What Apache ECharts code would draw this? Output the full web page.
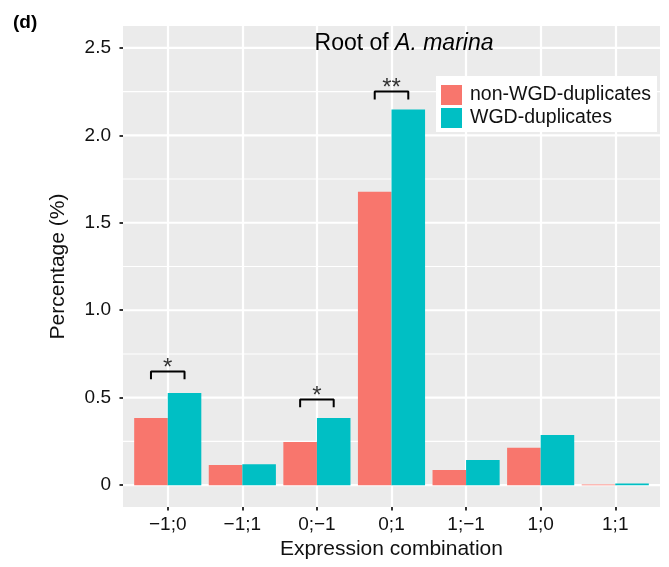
<!DOCTYPE html>
<html>
<head>
<meta charset="utf-8">
<script src="https://cdn.jsdelivr.net/npm/echarts@6/dist/echarts.min.js"></script>
<style>
  html, body { margin: 0; padding: 0; background: #fff; }
  #chart { width: 669px; height: 567px; }
</style>
</head>
<body>
<div id="chart"></div>
<script>
// 数据
const categories = ['\u22121;0', '\u22121;1', '0;\u22121', '0;1', '1;\u22121', '1;0', '1;1']
const nonWgd = [0.384, 0.115, 0.246, 1.678, 0.086, 0.214, 0.004]     // non-WGD-duplicates
const wgd = [0.527, 0.120, 0.384, 2.148, 0.143, 0.286, 0.010]        // WGD-duplicates
const yTicks = [0, 0.5, 1.0, 1.5, 2.0, 2.5]
const yMinor = [0.25, 0.75, 1.25, 1.75, 2.25]
// 显著性标注
const sigIndex = [0, 2, 3]
const sigTop = [0.65, 0.49, 2.25]
const sigLabel = ['*', '*', '**']

const FONT = "'Liberation Sans', Arial, sans-serif"
const RED = '#F8766D'
const TEAL = '#00BFC4'
const HALF = 0.225      // 半个柱宽(类别单位)
const LEG = 0.045       // 括号脚长
const X_MIN = -0.6
const X_MAX = 6.6

const chart = echarts.init(document.getElementById('chart'))

const xIdx = categories.map((c, i) => i)

// 横向网格线: 主/次
const gridSeries = [
    ...yMinor.map(v => ({ v, w: 1.1 })),
    ...yTicks.map(v => ({ v, w: 2.2 }))
].map(g => ({
    type: 'line',
    z: 3,
    silent: true,
    symbol: 'none',
    lineStyle: { color: '#fff', width: g.w },
    data: [[X_MIN, g.v], [X_MAX, g.v]]
}))

const bracketSeries = sigIndex.map((ci, k) => ({
    type: 'line',
    z: 6,
    silent: true,
    symbol: 'none',
    lineStyle: { color: '#000', width: 2 },
    data: [
        [ci - HALF, sigTop[k] - LEG],
        [ci - HALF, sigTop[k]],
        [ci + HALF, sigTop[k]],
        [ci + HALF, sigTop[k] - LEG]
    ]
}))

const option = {
    animation: false,
    textStyle: { fontFamily: FONT },
    grid: {
        left: 123, right: 9, top: 26, bottom: 60,
        show: true, backgroundColor: '#EBEBEB', borderWidth: 0
    },
    xAxis: {
        type: 'value',
        min: X_MIN,
        max: X_MAX,
        name: 'Expression combination',
        nameLocation: 'middle',
        nameGap: 31,
        nameTextStyle: { fontSize: 21, color: '#111', fontFamily: FONT },
        axisLine: { show: false, onZero: false },
        splitLine: { show: true, lineStyle: { color: '#fff', width: 2.2 } },
        axisTick: { show: true, customValues: xIdx, length: 3.5, lineStyle: { color: '#333', width: 2 } },
        axisLabel: {
            customValues: xIdx,
            formatter: v => categories[Math.round(v)] || '',
            fontSize: 19, color: '#111', margin: 8, fontFamily: FONT
        }
    },
    yAxis: {
        type: 'value',
        min: -0.125,
        max: 2.625,
        name: 'Percentage (%)',
        nameLocation: 'middle',
        nameRotate: 90,
        nameGap: 54,
        nameTextStyle: { fontSize: 21, color: '#111', fontFamily: FONT },
        axisLine: { show: false, onZero: false },
        splitLine: { show: false },
        axisTick: { show: true, customValues: yTicks, length: 3.5, lineStyle: { color: '#333', width: 2 } },
        axisLabel: {
            customValues: yTicks,
            formatter: v => v === 0 ? '0' : v.toFixed(1),
            fontSize: 19, color: '#111', margin: 12, fontFamily: FONT
        }
    },
    legend: {
        orient: 'vertical',
        left: 436,
        top: 76,
        z: 20,
        padding: [9, 6, 4, 5],
        backgroundColor: '#fff',
        itemWidth: 21,
        itemHeight: 20,
        itemGap: 3,
        icon: 'rect',
        textStyle: { fontSize: 19.5, color: '#111', fontFamily: FONT, padding: [0, 0, 0, 3] },
        data: ['non-WGD-duplicates', 'WGD-duplicates']
    },
    graphic: [
        {
            type: 'text', x: 13, y: 23, z: 100,
            style: { text: '(d)', font: 'bold 19px ' + FONT, fill: '#000', verticalAlign: 'middle' }
        },
        {
            type: 'text', x: 404, y: 44, z: 100,
            style: {
                text: '{n|Root of }{i|A. marina}',
                align: 'center', verticalAlign: 'middle',
                rich: {
                    n: { fontSize: 23, fontFamily: FONT, fill: '#000' },
                    i: { fontSize: 23, fontFamily: FONT, fontStyle: 'italic', fill: '#000' }
                }
            }
        }
    ],
    series: [
        ...gridSeries,
        {
            name: 'non-WGD-duplicates',
            type: 'bar',
            z: 5,
            barWidth: '45%',
            barGap: '0%',
            itemStyle: { color: RED },
            data: nonWgd.map((v, i) => [i, v])
        },
        {
            name: 'WGD-duplicates',
            type: 'bar',
            z: 5,
            barWidth: '45%',
            barGap: '0%',
            itemStyle: { color: TEAL },
            data: wgd.map((v, i) => [i, v])
        },
        ...bracketSeries,
        {
            // 星号
            type: 'scatter',
            z: 6,
            silent: true,
            symbolSize: 0,
            data: sigIndex.map((ci, k) => [ci, sigTop[k], sigLabel[k]]),
            label: {
                show: true,
                position: 'inside',
                offset: [0, -3],
                formatter: p => p.value[2],
                fontSize: 24, color: '#000', fontFamily: FONT
            }
        }
    ]
}

chart.setOption(option)
</script>
</body>
</html>
